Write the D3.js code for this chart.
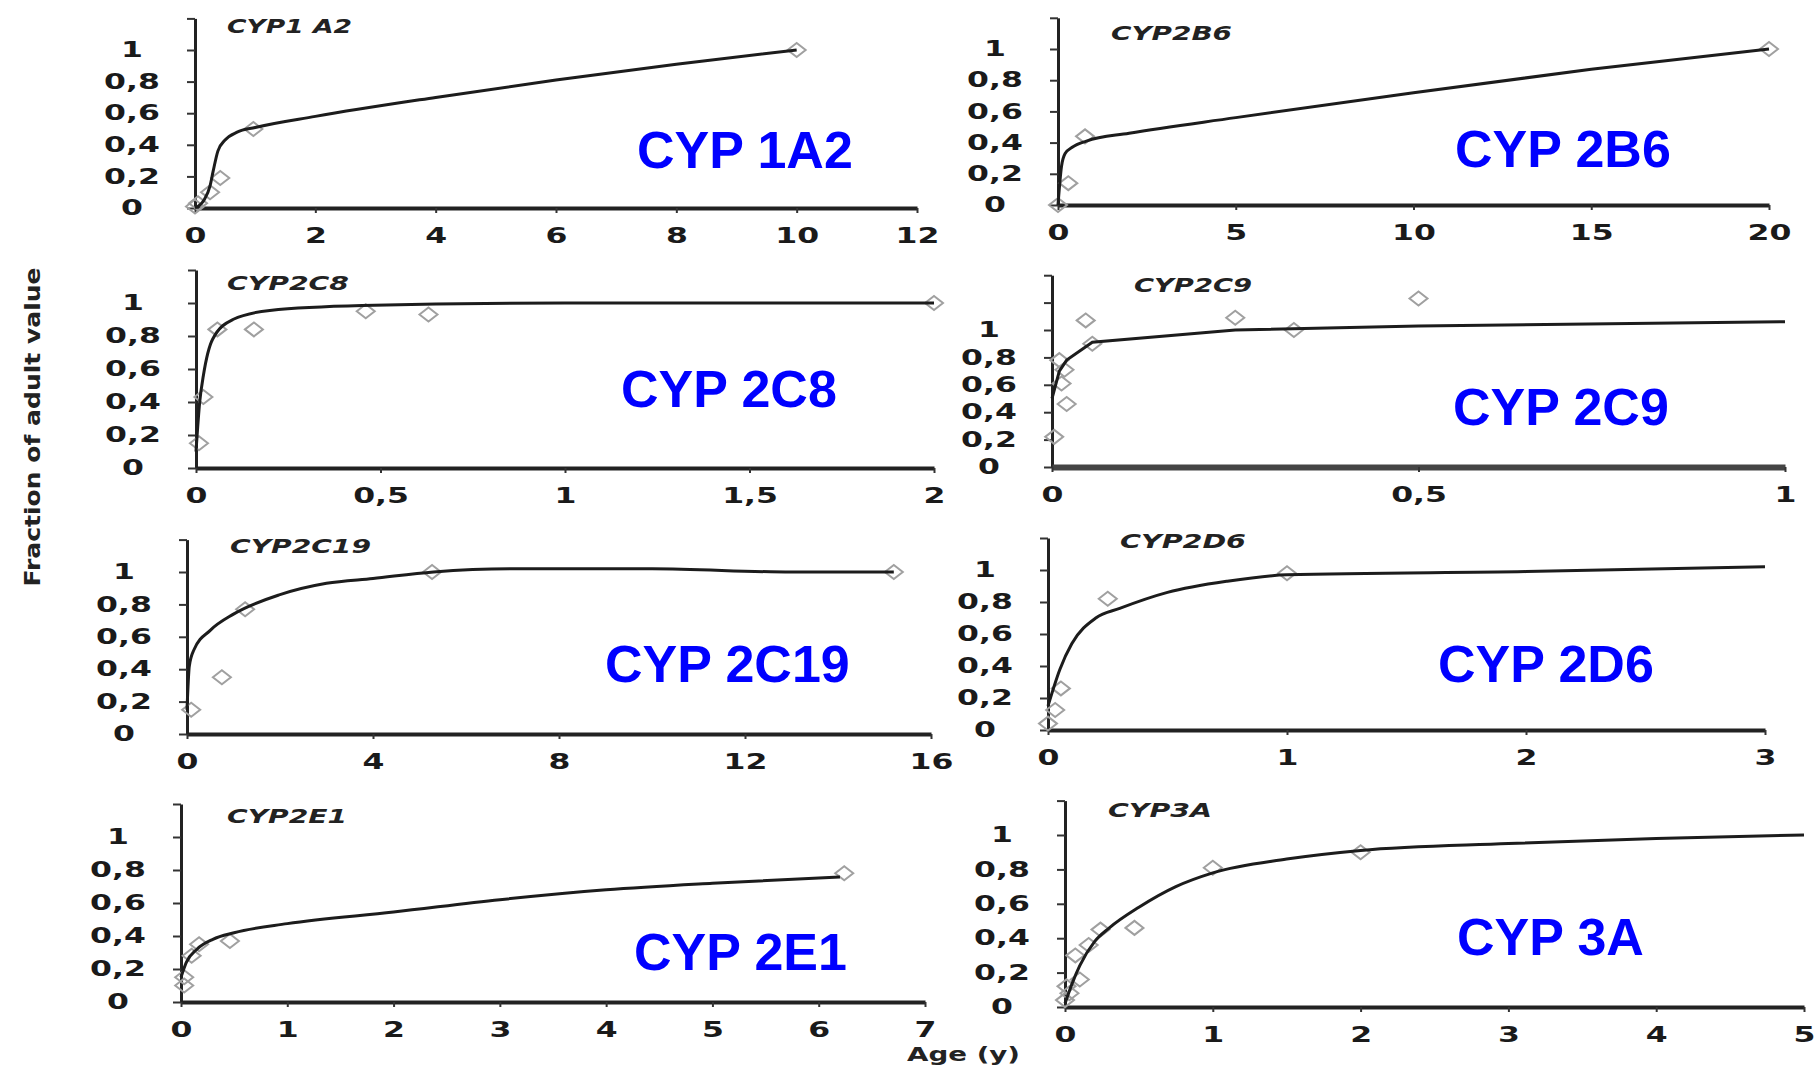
<!DOCTYPE html>
<html>
<head>
<meta charset="utf-8">
<script src="https://cdn.jsdelivr.net/npm/d3@7/dist/d3.min.js"></script>
<style>
  body { margin: 0; background: #fff; }
  svg { display: block; }
  .tick text { font-family: "DejaVu Sans", Verdana, sans-serif; font-weight: bold; font-size: 21px; fill: #1a1a1a; }
  .title { font-family: "DejaVu Sans", Verdana, sans-serif; font-weight: bold; font-style: italic; font-size: 20px; fill: #222; }
  .big { font-family: "Liberation Sans", Arial, sans-serif; font-weight: bold; font-size: 52px; fill: #0000ff; }
  .axlab { font-family: "DejaVu Sans", Verdana, sans-serif; font-weight: bold; fill: #222; }
</style>
</head>
<body>
<div id="chart"></div>
<script>
// values (age in years, fraction of adult value)
const names = ["CYP1 A2", "CYP2B6", "CYP2C8", "CYP2C9", "CYP2C19", "CYP2D6", "CYP2E1", "CYP3A"];
const bigNames = ["CYP 1A2", "CYP 2B6", "CYP 2C8", "CYP 2C9", "CYP 2C19", "CYP 2D6", "CYP 2E1", "CYP 3A"];

const xMax = [12, 20, 2, 1, 16, 3, 7, 5];
const yMax = [1.2, 1.2, 1.2, 1.4, 1.2, 1.2, 1.2, 1.2];

const xTicks1a2 = [0, 2, 4, 6, 8, 10, 12];
const xTicks2b6 = [0, 5, 10, 15, 20];
const xTicks2c8 = [0, 0.5, 1, 1.5, 2];
const xTicks2c9 = [0, 0.5, 1];
const xTicks2c19 = [0, 4, 8, 12, 16];
const xTicks2d6 = [0, 1, 2, 3];
const xTicks2e1 = [0, 1, 2, 3, 4, 5, 6, 7];
const xTicks3a = [0, 1, 2, 3, 4, 5];
const yTickLabels = [0, 0.2, 0.4, 0.6, 0.8, 1];

const pts1a2 = [[10, 1.0], [0.97, 0.5], [0.42, 0.19], [0.25, 0.1], [0.05, 0.03], [0, 0.01]];
const fit1a2 = [[0, 0], [0.15, 0.05], [0.25, 0.14], [0.3, 0.23], [0.38, 0.36], [0.5, 0.43], [0.7, 0.48], [1, 0.51], [2, 0.58], [4, 0.7], [6, 0.81], [8, 0.91], [10, 1.0]];

const pts2b6 = [[20, 1.0], [0.76, 0.44], [0.29, 0.14], [0, 0]];
const fit2b6 = [[0, 0], [0.1, 0.25], [0.2, 0.33], [0.4, 0.37], [0.8, 0.41], [2, 0.46], [5, 0.56], [10, 0.72], [15, 0.87], [20, 1.0]];

const pts2c8 = [[2, 1.0], [0.46, 0.95], [0.63, 0.93], [0.157, 0.84], [0.058, 0.84], [0.02, 0.43], [0.008, 0.15]];
const fit2c8 = [[0, 0.1], [0.01, 0.4], [0.02, 0.56], [0.045, 0.78], [0.1, 0.9], [0.2, 0.955], [0.45, 0.985], [1, 1.0], [2, 1.0]];

const pts2c9 = [[0.046, 1.07], [0.25, 1.09], [0.33, 1.0], [0.5, 1.23], [0.055, 0.9], [0.017, 0.71], [0.01, 0.78], [0.013, 0.61], [0.02, 0.46], [0.003, 0.22]];
const fit2c9 = [[0, 0.5], [0.01, 0.7], [0.02, 0.78], [0.055, 0.91], [0.25, 1.0], [0.5, 1.03], [1, 1.06]];

const pts2c19 = [[15.2, 1.0], [5.27, 1.0], [1.25, 0.77], [0.75, 0.35], [0.09, 0.15]];
const fit2c19 = [[0, 0.15], [0.05, 0.42], [0.15, 0.52], [0.5, 0.64], [1, 0.74], [2, 0.86], [3, 0.93], [4, 0.96], [5.3, 1.0], [7, 1.02], [10, 1.02], [13, 1.0], [15.2, 1.0]];

const pts2d6 = [[1.0, 0.98], [0.25, 0.82], [0.054, 0.26], [0.03, 0.125], [0, 0.04]];
const fit2d6 = [[0, 0.15], [0.05, 0.38], [0.1, 0.54], [0.2, 0.7], [0.3, 0.76], [0.5, 0.86], [0.75, 0.93], [1, 0.97], [2, 0.99], [3, 1.02]];

const pts2e1 = [[6.24, 0.78], [0.46, 0.37], [0.17, 0.35], [0.1, 0.28], [0.03, 0.15], [0.03, 0.1]];
const fit2e1 = [[0, 0.15], [0.05, 0.24], [0.15, 0.32], [0.3, 0.38], [0.5, 0.42], [1, 0.475], [2, 0.545], [3, 0.62], [4, 0.68], [5, 0.72], [6.2, 0.758]];

const pts3a = [[2.0, 0.9], [1.0, 0.81], [0.47, 0.46], [0.24, 0.45], [0.16, 0.36], [0.07, 0.3], [0.1, 0.16], [0.01, 0.12], [0, 0.04], [0.03, 0.08]];
const fit3a = [[0, 0.02], [0.05, 0.14], [0.1, 0.24], [0.2, 0.38], [0.3, 0.46], [0.5, 0.58], [0.75, 0.7], [1, 0.78], [1.5, 0.86], [2, 0.91], [3, 0.95], [4, 0.98], [5, 1.0]];

const xTicks = [xTicks1a2, xTicks2b6, xTicks2c8, xTicks2c9, xTicks2c19, xTicks2d6, xTicks2e1, xTicks3a];
const points = [pts1a2, pts2b6, pts2c8, pts2c9, pts2c19, pts2d6, pts2e1, pts3a];
const fits = [fit1a2, fit2b6, fit2c8, fit2c9, fit2c19, fit2d6, fit2e1, fit3a];

// pixel layout of each panel: x of 0 and of xMax, y of 0 and of 1, title / blue label spots
const layout = [
  { x0: 195, x1: 917, y0: 208, y1: 50, tx: 227, ty: 33, tw: 125, bx: 637, by: 168 },
  { x0: 1058, x1: 1769, y0: 205, y1: 49, tx: 1111, ty: 40, tw: 121, bx: 1455, by: 167 },
  { x0: 196, x1: 934, y0: 468, y1: 303, tx: 227, ty: 290, tw: 122, bx: 621, by: 407 },
  { x0: 1052, x1: 1785, y0: 467, y1: 330, tx: 1134, ty: 292, tw: 118, bx: 1453, by: 425 },
  { x0: 187, x1: 931, y0: 734, y1: 572, tx: 230, ty: 553, tw: 141, bx: 605, by: 682 },
  { x0: 1048, x1: 1765, y0: 730, y1: 570, tx: 1120, ty: 548, tw: 126, bx: 1438, by: 682 },
  { x0: 181, x1: 925, y0: 1002, y1: 837, tx: 227, ty: 823, tw: 120, bx: 634, by: 970 },
  { x0: 1065, x1: 1804, y0: 1007, y1: 835, tx: 1108, ty: 817, tw: 104, bx: 1457, by: 955 }
];

const W = 1820, H = 1069;
const stretch = 1.5;
const fmt = v => String(v).replace(".", ",");

const svg = d3.select("#chart").append("svg")
  .attr("width", W)
  .attr("height", H);

function diamond(x, y) {
  return "M" + (x - 9) + "," + y + "L" + x + "," + (y - 7) + "L" + (x + 9) + "," + y + "L" + x + "," + (y + 7) + "Z";
}

names.forEach(function(name, i) {
  let L = layout[i];
  let x = d3.scaleLinear().domain([0, xMax[i]]).range([L.x0, L.x1]);
  let y = d3.scaleLinear().domain([0, yMax[i]]).range([L.y0, L.y0 - yMax[i] * (L.y0 - L.y1)]);

  let g = svg.append("g");

  // y axis
  let yVals = d3.range(0, yMax[i] + 0.001, 0.2).map(v => Math.round(v * 10) / 10);
  let yAxis = d3.axisLeft(y)
    .tickValues(yVals)
    .tickSize(8)
    .tickSizeOuter(0)
    .tickFormat(v => yTickLabels.indexOf(v) >= 0 ? fmt(v) : "");
  let ya = g.append("g")
    .attr("transform", "translate(" + L.x0 + ",0)")
    .call(yAxis);
  ya.select(".domain").attr("stroke", "#222").attr("stroke-width", 3);
  ya.selectAll(".tick line").attr("stroke", "#333").attr("stroke-width", 2);
  ya.selectAll(".tick text")
    .attr("text-anchor", "middle")
    .attr("x", -63 / stretch)
    .attr("transform", "scale(" + stretch + ",1)");

  // x axis
  let xAxis = d3.axisBottom(x)
    .tickValues(xTicks[i])
    .tickSize(5)
    .tickSizeOuter(0)
    .tickPadding(15)
    .tickFormat(fmt);
  let xa = g.append("g")
    .attr("transform", "translate(0," + L.y0 + ")")
    .call(xAxis);
  xa.select(".domain").attr("stroke", i == 3 ? "#444" : "#222").attr("stroke-width", i == 3 ? 6 : 4);
  xa.selectAll(".tick line").attr("stroke", "#333").attr("stroke-width", 2);
  xa.selectAll(".tick text")
    .attr("transform", "scale(" + stretch + ",1)");

  // data markers
  g.selectAll(".pt")
    .data(points[i])
    .enter()
    .append("path")
    .attr("class", "pt")
    .attr("d", d => diamond(x(d[0]), y(d[1])))
    .attr("fill", "none")
    .attr("stroke", "#a0a0a0")
    .attr("stroke-width", 2);

  // fitted curve
  let line = d3.line()
    .x(d => x(d[0]))
    .y(d => y(d[1]))
    .curve(i == 3 ? d3.curveLinear : d3.curveMonotoneX);
  g.append("path")
    .datum(fits[i])
    .attr("d", line)
    .attr("fill", "none")
    .attr("stroke", "#1c1c1c")
    .attr("stroke-width", 3);

  // small italic title
  g.append("text")
    .attr("class", "title")
    .attr("x", L.tx)
    .attr("y", L.ty)
    .attr("textLength", L.tw)
    .attr("lengthAdjust", "spacingAndGlyphs")
    .text(name);

  // blue label
  g.append("text")
    .attr("class", "big")
    .attr("x", L.bx)
    .attr("y", L.by)
    .text(bigNames[i]);
});

svg.append("text")
  .attr("class", "axlab")
  .attr("transform", "translate(40,427) rotate(-90)")
  .attr("text-anchor", "middle")
  .attr("font-size", 22)
  .attr("textLength", 319)
  .attr("lengthAdjust", "spacingAndGlyphs")
  .text("Fraction of adult value");

svg.append("text")
  .attr("class", "axlab")
  .attr("x", 907)
  .attr("y", 1061)
  .attr("font-size", 20)
  .attr("textLength", 113)
  .attr("lengthAdjust", "spacingAndGlyphs")
  .text("Age (y)");
</script>
</body>
</html>
